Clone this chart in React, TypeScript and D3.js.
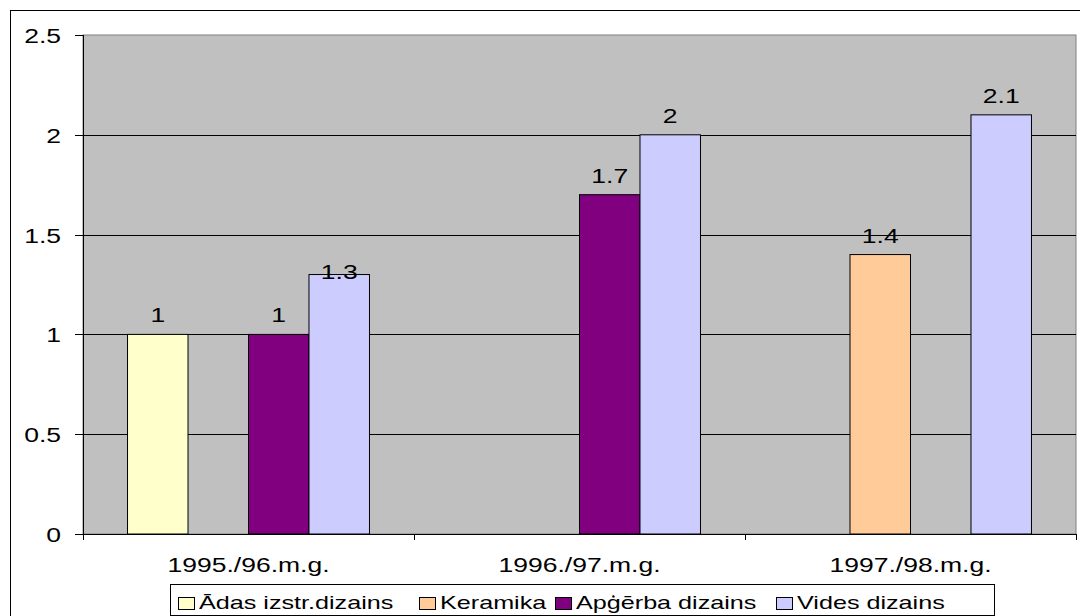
import React from "react";
import * as d3 from "d3";

const categories = ["1995./96.m.g.", "1996./97.m.g.", "1997./98.m.g."];
const seriesNames = ["Ādas izstr.dizains", "Keramika", "Apģērba dizains", "Vides dizains"];
const adasValues: (number | null)[] = [1, null, null];
const keramikaValues: (number | null)[] = [null, null, 1.4];
const apgerbaValues: (number | null)[] = [1, 1.7, null];
const videsValues: (number | null)[] = [1.3, 2, 2.1];
const yTicks = [0, 0.5, 1, 1.5, 2, 2.5];
const seriesColors = ["#FFFFCC", "#FFCC99", "#800080", "#CCCCFF"];

const seriesValues = [adasValues, keramikaValues, apgerbaValues, videsValues];

const W = 1080;
const H = 616;
const plot = { left: 83, right: 1076, top: 35, bottom: 534 };
const SX = 1.36;
const FONT = "'Liberation Sans', Arial, sans-serif";
// legend layout (swatch x, text x)
const legendItems = [178, 419, 555, 776];
// Excel placed this one label lower than the others
const labelNudge: Record<string, number> = { "3|0": 16 };

function SText({ x, y, size, anchor, children }: any) {
  return (
    <text
      transform={`translate(${x},${y}) scale(${SX},1)`}
      fontSize={size}
      fontFamily={FONT}
      textAnchor={anchor}
      fill="#000"
    >
      {children}
    </text>
  );
}

export default function App() {
  const y = d3.scaleLinear().domain([0, 2.5]).range([plot.bottom, plot.top]);
  const x0 = d3.scaleBand<string>().domain(categories).range([plot.left, plot.right]).padding(0);
  const x1 = d3
    .scaleBand<string>()
    .domain(seriesNames)
    .range([0, x0.bandwidth()])
    .paddingInner(0)
    .paddingOuter(0.736);

  const bars: any[] = [];
  const labels: any[] = [];
  seriesValues.forEach((vals, si) => {
    vals.forEach((v, ci) => {
      if (v == null) return;
      const bx = (x0(categories[ci]) as number) + (x1(seriesNames[si]) as number);
      const top = y(v);
      bars.push(
        <rect
          key={`b${si}-${ci}`}
          x={bx}
          y={top}
          width={x1.bandwidth()}
          height={plot.bottom - top}
          fill={seriesColors[si]}
          stroke="#000"
          strokeWidth={1}
        />
      );
      const nudge = labelNudge[`${si}|${ci}`] ?? 0;
      labels.push(
        <SText key={`l${si}-${ci}`} x={bx + x1.bandwidth() / 2} y={top - 12 + nudge} size={19.5} anchor="middle">
          {String(v)}
        </SText>
      );
    });
  });

  const boundaries = [plot.left, ...categories.map((c) => (x0(c) as number) + x0.bandwidth())];

  return (
    <svg
      width={W}
      height={H}
      style={{ position: "absolute", left: 0, top: 0, background: "#fff", display: "block" }}
    >
      <rect x={10.5} y={10.5} width={1080} height={620} fill="#fff" stroke="#000" strokeWidth={1} />
      <rect
        x={plot.left}
        y={plot.top}
        width={plot.right - plot.left}
        height={plot.bottom - plot.top}
        fill="#C0C0C0"
        stroke="#808080"
        strokeWidth={1}
      />
      {yTicks
        .filter((t) => t > 0 && t < 2.5)
        .map((t) => (
          <line key={`g${t}`} x1={plot.left} x2={plot.right} y1={Math.round(y(t)) + 0.5} y2={Math.round(y(t)) + 0.5} stroke="#000" strokeWidth={1} />
        ))}
      {bars}
      <line x1={plot.left + 0.5} x2={plot.left + 0.5} y1={plot.top} y2={plot.bottom} stroke="#000" />
      <line x1={plot.left} x2={plot.right} y1={plot.bottom + 0.5} y2={plot.bottom + 0.5} stroke="#000" />
      {yTicks.map((t) => (
        <g key={`t${t}`}>
          <line x1={75} x2={plot.left} y1={Math.round(y(t)) + 0.5} y2={Math.round(y(t)) + 0.5} stroke="#000" />
          <SText x={61} y={y(t) + 8} size={19.5} anchor="end">
            {String(t)}
          </SText>
        </g>
      ))}
      {boundaries.map((bx, i) => (
        <line key={`xt${i}`} x1={Math.round(bx) + 0.5} x2={Math.round(bx) + 0.5} y1={plot.bottom} y2={plot.bottom + 6} stroke="#000" />
      ))}
      {categories.map((c) => (
        <SText key={c} x={(x0(c) as number) + x0.bandwidth() / 2} y={572} size={19.5} anchor="middle">
          {c}
        </SText>
      ))}
      {labels}
      <rect x={170.5} y={584.5} width={824} height={31} fill="#fff" stroke="#000" strokeWidth={1} />
      {seriesNames.map((name, i) => (
        <g key={name}>
          <rect x={legendItems[i] + 0.5} y={597.5} width={16} height={12} fill={seriesColors[i]} stroke="#000" />
          <SText x={legendItems[i] + 21} y={609} size={18.5} anchor="start">
            {name}
          </SText>
        </g>
      ))}
    </svg>
  );
}
